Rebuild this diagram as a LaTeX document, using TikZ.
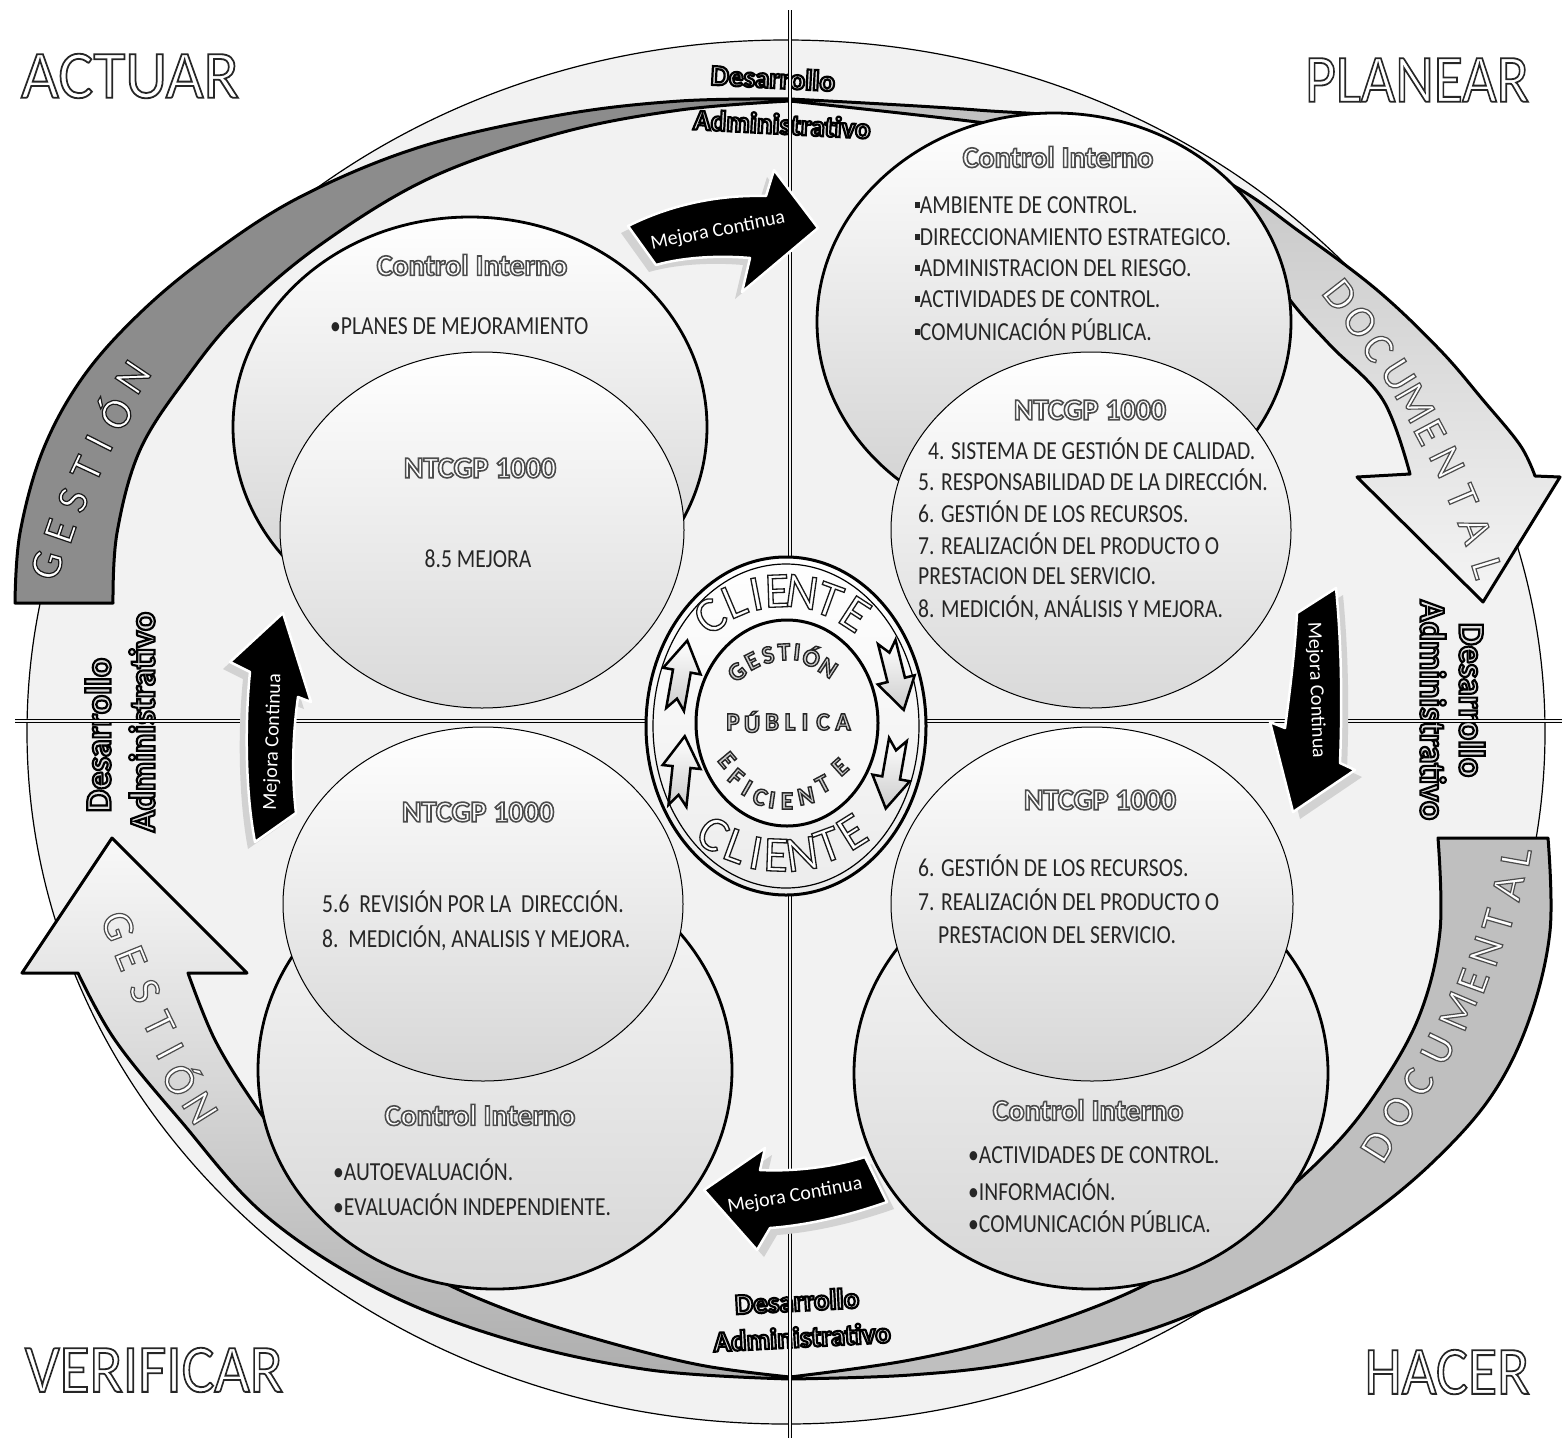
\documentclass[tikz,border=0pt]{standalone}
\usepackage{fontspec}
\setmainfont{Carlito}
\usepackage{graphicx}
% outlined text: #1 stroke grey level, #2 stroke width, #3 fill grey level, #4 text
\newcommand\olx[4]{{\color[gray]{#3}\special{pdf:literal direct #2 w #1 G 2 Tr}#4\special{pdf:literal direct 0 Tr}}}
\newcommand\ot[3]{\olx{#1}{#2}{1}{#3}}
\newcommand\sq{\raisebox{0.22em}{\rule{0.22em}{0.22em}}}
\newcommand\bx[1]{\scalebox{0.83}[1]{#1}}
\newcommand\narrow[3]{\draw[narr, shift={(#1,#2)}, rotate=#3] (-9,34) -- (-9,-5) -- (-19,-5) -- (0,-36) -- (19,-5) -- (9,-5) -- (9,34) -- (0,23) -- cycle;}
\tikzset{
  tx/.style={font=\fontsize{26}{30}\selectfont, anchor=west, inner sep=0pt, text=black!85},
  txc/.style={font=\fontsize{26}{30}\selectfont, inner sep=0pt, text=black!85},
  hd/.style={font=\bfseries\fontsize{30}{34}\selectfont, inner sep=0pt},
  corner/.style={font=\fontsize{68}{72}\selectfont, inner sep=0pt},
  da/.style={font=\bfseries\fontsize{29}{32}\selectfont, inner sep=0pt},
  das/.style={font=\bfseries\fontsize{36}{40}\selectfont, inner sep=0pt},
  mc/.style={font=\fontsize{20}{24}\selectfont, text=white, inner sep=0pt},
  band/.style={draw=black, line width=3pt, line join=round},
  circO/.style={draw=black, line width=2.8pt},
  circI/.style={draw=black, line width=1pt},
  mej/.style={fill=black, draw=white, line width=2.5pt, line join=round},
  mejsh/.style={fill=gray!35},
  bletter/.style={font=\fontsize{44}{48}\selectfont, inner sep=0pt},
  cletter/.style={font=\fontsize{50}{54}\selectfont, inner sep=0pt},
  gletter/.style={font=\bfseries\fontsize{25}{28}\selectfont, inner sep=0pt},
  narr/.style={draw=black, line width=2.5pt, top color=white, bottom color=gray!40, line join=miter},
  qline/.style={double=gray!10, double distance=2.2pt, line width=0.9pt}
}
\begin{document}
\begin{tikzpicture}[x=1pt,y=-1pt]
\useasboundingbox (0,0) rectangle (1562,1438);
\fill[white] (0,0) rectangle (1562,1438);

% outer ellipse
\draw[fill=gray!10, line width=1.2pt] (786,732) ellipse [x radius=759, y radius=692];

% top band, left part (dark)
\draw[band, fill=black!45] plot[smooth, tension=0.6] coordinates {(15,603) (20,533) (43,450) (83,377) (140,313) (210,255) (300,197) (420,147) (560,115) (680,101) (790,99)} -- plot[smooth, tension=0.6] coordinates {(790,101) (680,110) (560,133) (430,178) (320,245) (240,313) (187,377) (140,450) (117,533) (113,603)} -- cycle;
% top band, right part with head
\draw[band, top color=black!25, bottom color=gray!8] plot[smooth, tension=0.6] coordinates {(790,99) (977,110) (1100,124) (1227,182) (1300,232) (1377,290) (1440,350) (1483,400) (1520,445) (1535,476)} -- (1560,477) -- (1483,602) -- (1357,477) -- (1410,474) -- plot[smooth, tension=0.6] coordinates {(1410,474) (1383,400) (1330,345) (1290,300) (1250,240) (1200,178) (1100,140) (977,122) (790,101)} -- cycle;
% bottom band, right part
\draw[band, fill=black!25] plot[smooth, tension=0.6] coordinates {(1548,838) (1550,931) (1529,1020) (1492,1095) (1435,1160) (1365,1218) (1275,1275) (1155,1328) (1020,1362) (910,1375) (790,1379)} -- plot[smooth, tension=0.6] coordinates {(790,1377) (910,1360) (1020,1333) (1145,1285) (1255,1215) (1330,1150) (1380,1087) (1420,1014) (1440,931) (1438,838)} -- cycle;
% bottom band, left part with head
\draw[band, top color=gray!5, bottom color=black!32] plot[smooth, tension=0.6] coordinates {(790,1379) (650,1370) (510,1340) (380,1290) (265,1215) (180,1120) (115,1040) (78,973)} -- (22,973) -- (112,838) -- (247,973) -- (188,973) -- plot[smooth, tension=0.6] coordinates {(188,973) (215,1040) (255,1105) (300,1165) (357,1225) (430,1275) (510,1311) (600,1340) (700,1365) (790,1377)} -- cycle;

% band letters
\foreach \l/\x/\y/\r [count=\i] in {G/47/565/74, E/60/531/71, S/73/500/68, T/87/469/65, I/99/443/63, Ó/113/412/60, N/133/377/56}
  \node[bletter, rotate=\r] (gA\i) at (\x,\y) {\ot{0.1}{1.2}{\l}};
\foreach \l/\x/\y/\r [count=\i] in {D/1340/295/-52, O/1360/322/-54, C/1378/348/-56, U/1398/375/-58, M/1415/403/-60, E/1430/432/-62, N/1447/462/-64, T/1462/497/-67, A/1475/530/-70, L/1487/568/-73}
  \node[bletter, rotate=\r] (dA\i) at (\x,\y) {\ot{0.3}{1.2}{\l}};
\foreach \l/\x/\y/\r [count=\i] in {G/118/926/-70, E/131/958/-68, S/145/991/-66, T/159/1024/-64, I/170/1051/-62, Ó/183/1078/-60, N/200/1108/-58}
  \node[bletter, rotate=\r] (gB\i) at (\x,\y) {\ot{0.3}{1.2}{\l}};
\foreach \l/\x/\y/\r [count=\i] in {D/1378/1146/58, O/1398/1112/60, C/1418/1082/62, U/1438/1049/64, M/1458/1011/67, E/1473/981/70, N/1486/951/72, T/1498/921/74, A/1508/887/77, L/1516/857/80}
  \node[bletter, rotate=\r] (dB\i) at (\x,\y) {\ot{0.3}{1.2}{\l}};

% circles
\draw[circO, top color=white, bottom color=gray!38] (470,427) ellipse [x radius=237, y radius=210];
\draw[circI, top color=white, bottom color=gray!30] (482,530) ellipse [x radius=202, y radius=178];
\draw[circO, top color=white, bottom color=gray!38] (1054,322) ellipse [x radius=237, y radius=209];
\draw[circI, top color=white, bottom color=gray!30] (1091,530) ellipse [x radius=200, y radius=178];
\draw[circO, top color=gray!5, bottom color=gray!32] (495,1070) ellipse [x radius=237, y radius=219];
\draw[circI, top color=white, bottom color=gray!32] (483,904) ellipse [x radius=200, y radius=177];
\draw[circO, top color=gray!5, bottom color=gray!32] (1091,1073) ellipse [x radius=237, y radius=216];
\draw[circI, top color=white, bottom color=gray!32] (1092,904) ellipse [x radius=201, y radius=177];

% circle texts
\node[hd] (ciTL) at (472,265) {\ot{0.3}{1.6}{Control Interno}};
\node[tx] (tTL1) at (330,326) {\bx{•PLANES DE MEJORAMIENTO}};
\node[hd] (nTL) at (480,468) {\ot{0.3}{1.6}{NTCGP 1000}};
\node[txc] (tTL2) at (478,559) {\bx{8.5 MEJORA}};

\node[hd] (ciTR) at (1058,157) {\ot{0.3}{1.6}{Control Interno}};
\node[tx] (tTR1) at (915,205) {\bx{\sq AMBIENTE DE CONTROL.}};
\node[tx] (tTR2) at (915,237) {\bx{\sq DIRECCIONAMIENTO ESTRATEGICO.}};
\node[tx] (tTR3) at (915,268) {\bx{\sq ADMINISTRACION DEL RIESGO.}};
\node[tx] (tTR4) at (915,299) {\bx{\sq ACTIVIDADES DE CONTROL.}};
\node[tx] (tTR5) at (915,330) {\bx{\sq COMUNICACIÓN PÚBLICA.}};
\node[hd] (nTR) at (1090,410) {\ot{0.3}{1.6}{NTCGP 1000}};
\node[tx] (tTR6) at (928,449) {\bx{4. SISTEMA DE GESTIÓN DE CALIDAD.}};
\node[tx] (tTR7) at (918,480) {\bx{5. RESPONSABILIDAD DE LA DIRECCIÓN.}};
\node[tx] (tTR8) at (918,512) {\bx{6. GESTIÓN DE LOS RECURSOS.}};
\node[tx] (tTR9) at (918,544) {\bx{7. REALIZACIÓN DEL PRODUCTO O}};
\node[tx] (tTR10) at (918,576) {\bx{PRESTACION DEL SERVICIO.}};
\node[tx] (tTR11) at (918,608) {\bx{8. MEDICIÓN, ANÁLISIS Y MEJORA.}};

\node[hd] (nBL) at (478,812) {\ot{0.3}{1.6}{NTCGP 1000}};
\node[tx] (tBL1) at (322,902) {\bx{5.6\ \ REVISIÓN POR LA\ \ DIRECCIÓN.}};
\node[tx] (tBL2) at (322,938) {\bx{8.\ \ MEDICIÓN, ANALISIS Y MEJORA.}};
\node[hd] (ciBL) at (480,1115) {\ot{0.3}{1.6}{Control Interno}};
\node[tx] (tBL3) at (333,1170) {\bx{•AUTOEVALUACIÓN.}};
\node[tx] (tBL4) at (333,1205) {\bx{•EVALUACIÓN INDEPENDIENTE.}};

\node[hd] (nBR) at (1100,800) {\ot{0.3}{1.6}{NTCGP 1000}};
\node[tx] (tBR1) at (918,866) {\bx{6. GESTIÓN DE LOS RECURSOS.}};
\node[tx] (tBR2) at (918,900) {\bx{7. REALIZACIÓN DEL PRODUCTO O}};
\node[tx] (tBR3) at (938,935) {\bx{PRESTACION DEL SERVICIO.}};
\node[hd] (ciBR) at (1088,1110) {\ot{0.3}{1.6}{Control Interno}};
\node[tx] (tBR4) at (968,1155) {\bx{•ACTIVIDADES DE CONTROL.}};
\node[tx] (tBR5) at (968,1190) {\bx{•INFORMACIÓN.}};
\node[tx] (tBR6) at (968,1222) {\bx{•COMUNICACIÓN PÚBLICA.}};

% Desarrollo Administrativo
\node[da, rotate=-3] (daT1) at (773,78) {\olx{0}{2.2}{0.88}{Desarrollo}};
\node[da, rotate=-3] (daT2) at (782,124) {\olx{0}{2.2}{0.88}{Administrativo}};
\node[da, rotate=3] (daB1) at (797,1301) {\olx{0}{2.2}{0.88}{Desarrollo}};
\node[da, rotate=3] (daB2) at (802,1337) {\olx{0}{2.2}{0.88}{Administrativo}};
\node[das, rotate=90] (daL1) at (98,735) {\olx{0}{2.2}{0.88}{Desarrollo}};
\node[das, rotate=90] (daL2) at (142,722) {\olx{0}{2.2}{0.88}{Administrativo}};
\node[das, rotate=-90] (daR1) at (1472,700) {\olx{0}{2.2}{0.88}{Desarrollo}};
\node[das, rotate=-90] (daR2) at (1433,710) {\olx{0}{2.2}{0.88}{Administrativo}};

% quadrant lines
\coordinate (vT) at (790,10);
\coordinate (vB) at (790,1438);
\coordinate (hL) at (15,721);
\coordinate (hR) at (1562,721);
\draw[qline] (vT) -- (vB);
\draw[qline] (hL) -- (hR);

% Mejora Continua arrows
\begin{scope}[shift={(-7,7)}]
\fill[mejsh] (628,226) .. controls (680,200) and (730,195) .. (766,196) -- (774,170) -- (818,228) -- (742,292) -- (750,258) .. controls (715,255) and (680,258) .. (656,265) -- cycle;
\fill[mejsh] (283,613) -- (311,702) -- (298,697) .. controls (292,740) and (292,780) .. (296,813) -- (255,842) .. controls (245,790) and (245,720) .. (250,672) -- (230,662) -- cycle;
\end{scope}
\begin{scope}[shift={(7,7)}]
\fill[mejsh] (1297,613) -- (1336,588) .. controls (1342,650) and (1342,710) .. (1340,763) -- (1355,770) -- (1293,812) -- (1270,722) -- (1285,728) .. controls (1290,690) and (1295,650) .. (1297,613) -- cycle;
\fill[mejsh] (704,1190) -- (765,1148) -- (760,1170) .. controls (800,1172) and (840,1165) .. (865,1157) -- (887,1202) .. controls (850,1215) and (810,1225) .. (770,1228) -- (757,1250) -- cycle;
\end{scope}
\draw[mej] (628,226) .. controls (680,200) and (730,195) .. (766,196) -- (774,170) -- (818,228) -- (742,292) -- (750,258) .. controls (715,255) and (680,258) .. (656,265) -- cycle;
\draw[mej] (283,613) -- (311,702) -- (298,697) .. controls (292,740) and (292,780) .. (296,813) -- (255,842) .. controls (245,790) and (245,720) .. (250,672) -- (230,662) -- cycle;
\draw[mej] (1297,613) -- (1336,588) .. controls (1342,650) and (1342,710) .. (1340,763) -- (1355,770) -- (1293,812) -- (1270,722) -- (1285,728) .. controls (1290,690) and (1295,650) .. (1297,613) -- cycle;
\draw[mej] (704,1190) -- (765,1148) -- (760,1170) .. controls (800,1172) and (840,1165) .. (865,1157) -- (887,1202) .. controls (850,1215) and (810,1225) .. (770,1228) -- (757,1250) -- cycle;
\node[mc, rotate=11] (mcT) at (718,231) {Mejora Continua};
\node[mc, rotate=88] (mcL) at (273,742) {Mejora Continua};
\node[mc, rotate=-88] (mcR) at (1316,690) {Mejora Continua};
\node[mc, rotate=10] (mcB) at (795,1196) {Mejora Continua};

% centre
\draw[line width=3pt, top color=white, bottom color=gray!15] (786,726) ellipse [x radius=140, y radius=169];
\draw[line width=1.2pt] (786,726) ellipse [x radius=133, y radius=162];
\draw[line width=3pt, fill=gray!6] (787,723) ellipse [x radius=91, y radius=103];
\narrow{681}{676}{-10}
\narrow{681}{772}{-6}
\narrow{895}{675}{194}
\narrow{892}{773}{170}
\foreach \l/\x/\y/\r [count=\i] in {C/710/616/36, L/734/601/23, I/756/594/11, E/777/591/2, N/802/592/-8, T/829/600/-20, E/855/614/-33}
  \node[cletter, rotate=\r] (clT\i) at (\x,\y) {\ot{0.1}{1.3}{\l}};
\foreach \l/\x/\y/\r [count=\i] in {C/713/834/-32, L/736/846/-20, I/756/853/-10, E/776/855/-2, N/802/854/8, T/828/845/20, E/852/832/32}
  \node[cletter, rotate=\r] (clB\i) at (\x,\y) {\ot{0.1}{1.3}{\l}};
\foreach \l/\x/\y/\r [count=\i] in {G/737/672/40, E/752/661/27, S/768/655/14, T/784/652/3, I/797/652/-6, Ó/812/656/-18, N/828/668/-33}
  \node[gletter, rotate=\r] (gs\i) at (\x,\y) {\olx{0.15}{1.4}{0.8}{\l}};
\foreach \l/\x [count=\i] in {P/733, Ú/752, B/772, L/790, I/805, C/823, A/843}
  \node[gletter] (pb\i) at (\x,722) {\olx{0.15}{1.4}{0.8}{\l}};
\foreach \l/\x/\y/\r [count=\i] in {E/727/760/-50, F/736/777/-40, I/747/788/-30, C/760/797/-20, I/772/800/-8, E/787/801/0, N/806/796/12, T/823/784/28, E/840/767/42}
  \node[gletter, rotate=\r] (ef\i) at (\x,\y) {\olx{0.15}{1.4}{0.8}{\l}};

% corner labels
\node[corner] (actuar) at (130,76) {\scalebox{0.96}[1]{\ot{0.15}{1.8}{ACTUAR}}};
\node[corner] (planear) at (1417,80) {\scalebox{0.875}[1]{\ot{0.15}{1.8}{PLANEAR}}};
\node[corner] (verificar) at (154,1370) {\scalebox{0.9}[1]{\ot{0.15}{1.8}{VERIFICAR}}};
\node[corner] (hacer) at (1447,1372) {\scalebox{0.88}[1]{\ot{0.15}{1.8}{HACER}}};
\end{tikzpicture}
\end{document}
